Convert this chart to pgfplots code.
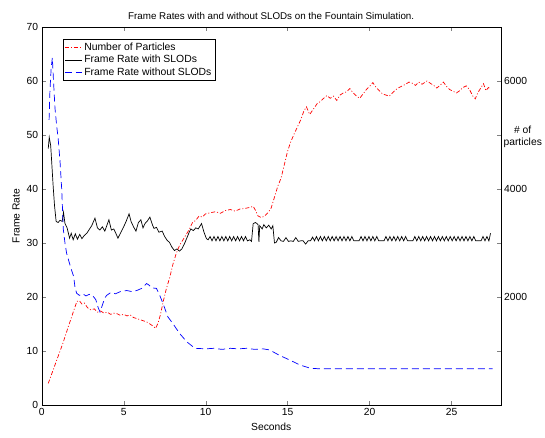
\documentclass[border=0pt]{standalone}
\usepackage{fontspec}
\setmainfont{Liberation Sans}
\usepackage{pgfplots}
\pgfplotsset{compat=1.18}

\pgfplotstableread{
x y
0.40 47.5
0.46 49.6
0.55 48.0
0.62 44.5
0.70 40.5
0.78 37.0
0.88 34.0
1.00 33.8
1.12 34.2
1.25 34.0
1.33 35.7
1.42 33.6
1.55 32.8
1.70 30.9
1.80 31.8
1.92 30.6
2.05 31.7
2.18 30.7
2.32 31.6
2.45 30.8
2.60 31.4
2.75 31.8
2.90 32.5
3.05 33.2
3.25 34.6
3.40 32.8
3.55 32.4
3.70 33.0
3.85 32.2
4.10 34.3
4.25 32.4
4.40 32.6
4.55 31.6
4.65 30.9
4.80 31.8
5.00 33.0
5.15 34.0
5.33 35.4
5.45 34.0
5.60 33.0
5.75 32.2
5.90 33.8
6.05 34.3
6.18 32.8
6.30 33.6
6.45 34.1
6.60 34.8
6.75 33.4
6.85 32.7
7.00 32.9
7.15 32.0
7.35 32.2
7.50 31.2
7.65 30.5
7.80 30.1
7.95 29.2
8.10 28.6
8.25 28.9
8.40 28.5
8.55 28.9
8.70 29.8
8.85 30.9
9.00 32.0
9.10 32.6
9.25 32.3
9.40 32.8
9.55 32.6
9.75 33.6
9.90 32.0
10.05 30.8
10.15 30.6
10.27 31.2
10.39 30.4
10.51 31.2
10.63 30.4
10.75 31.2
10.87 30.4
10.99 31.2
11.11 30.4
11.23 31.2
11.35 30.4
11.47 31.2
11.59 30.4
11.71 31.2
11.83 30.4
11.95 31.2
12.07 30.4
12.19 31.2
12.31 30.4
12.43 31.2
12.55 30.4
12.70 30.6
12.80 30.3
12.90 33.6
13.05 33.8
13.20 33.4
13.25 30.2
13.30 33.2
13.45 32.6
13.55 33.4
13.70 32.8
13.85 33.3
14.00 32.6
14.10 33.2
14.20 30.0
14.30 30.1
14.45 31.0
14.60 30.4
14.75 30.3
14.90 31.0
15.05 30.3
15.20 30.4
15.35 30.3
15.50 31.0
15.65 30.3
15.80 30.4
15.95 30.4
16.10 29.8
16.25 30.4
16.40 30.4
16.52 31.1
16.64 30.4
16.76 31.2
16.88 30.4
17.00 31.2
17.12 30.4
17.24 31.2
17.36 30.4
17.48 31.2
17.60 30.4
17.72 31.2
17.84 30.4
17.96 31.2
18.08 30.4
18.20 31.2
18.32 30.4
18.44 31.2
18.56 30.4
18.68 31.2
18.80 30.4
18.92 31.2
19.04 30.4
19.20 30.4
19.36 30.4
19.48 31.2
19.60 30.4
19.72 31.2
19.84 30.4
19.96 31.2
20.08 30.4
20.20 31.2
20.32 30.4
20.44 31.2
20.56 30.4
20.72 30.4
20.88 30.4
21.00 31.2
21.12 30.4
21.24 31.2
21.36 30.4
21.48 31.2
21.60 30.4
21.72 31.2
21.84 30.4
21.96 31.2
22.08 30.4
22.20 31.2
22.32 30.4
22.48 30.4
22.64 30.4
22.76 31.2
22.88 30.4
23.00 31.2
23.12 30.4
23.24 31.2
23.36 30.4
23.48 31.2
23.60 30.4
23.72 31.2
23.84 30.4
23.96 31.2
24.08 30.4
24.20 31.2
24.32 30.4
24.44 31.2
24.56 30.4
24.68 31.2
24.80 30.4
24.92 31.2
25.04 30.4
25.16 31.2
25.28 30.4
25.40 31.2
25.52 30.4
25.64 31.2
25.76 30.4
25.88 31.2
26.00 30.4
26.12 31.2
26.24 30.4
26.36 31.2
26.48 30.4
26.64 30.4
26.80 30.4
26.92 31.2
27.04 30.4
27.16 31.2
27.28 30.4
27.38 31.8
}\withslods

\pgfplotstableread{
x y
0.45 52.8
0.50 58.0
0.58 62.5
0.65 64.3
0.72 60.0
0.81 55.0
0.92 51.5
1.00 49.5
1.12 45.0
1.22 40.0
1.32 32.5
1.42 30.0
1.52 28.1
1.67 26.5
1.83 24.9
1.95 23.8
2.03 21.8
2.13 20.7
2.30 20.3
2.50 20.6
2.70 20.2
2.90 20.5
3.10 20.3
3.30 19.5
3.45 18.0
3.56 17.2
3.70 18.5
3.85 19.8
3.96 20.3
4.20 20.8
4.50 20.6
4.80 21.0
5.19 21.2
5.50 21.0
5.80 21.2
6.10 21.6
6.40 22.5
6.55 22.2
6.70 21.7
7.00 21.6
7.20 20.3
7.40 18.8
7.70 16.3
8.00 15.1
8.40 13.3
8.85 11.7
9.35 10.5
10.00 10.4
10.50 10.5
11.00 10.3
11.50 10.5
12.00 10.4
12.50 10.5
13.00 10.3
13.50 10.4
13.90 10.2
14.50 9.2
15.15 8.3
15.76 7.4
16.40 6.8
17.00 6.7
27.50 6.7
}\withoutslods

\pgfplotstableread{
x n
0.40 400
0.70 650
1.00 900
1.30 1150
1.60 1430
1.90 1700
2.15 1920
2.30 1930
2.45 1870
2.60 1890
2.80 1800
3.00 1760
3.20 1780
3.40 1720
3.60 1740
3.80 1700
4.00 1720
4.20 1680
4.40 1700
4.60 1690
4.80 1660
5.00 1680
5.20 1650
5.40 1670
5.60 1620
5.80 1600
6.00 1580
6.20 1560
6.40 1540
6.60 1500
6.80 1460
6.95 1420
7.10 1520
7.25 1680
7.40 1900
7.60 2150
7.80 2350
8.00 2600
8.20 2800
8.40 2950
8.60 3050
8.80 3150
9.00 3250
9.20 3380
9.40 3420
9.60 3500
9.80 3480
10.00 3540
10.30 3560
10.60 3580
10.90 3550
11.20 3600
11.50 3620
11.80 3590
12.10 3630
12.40 3640
12.70 3660
12.90 3680
13.05 3600
13.20 3500
13.40 3470
13.60 3500
13.80 3560
14.00 3650
14.20 3850
14.40 4050
14.60 4200
14.80 4450
15.00 4700
15.20 4880
15.40 5020
15.60 5150
15.80 5280
16.00 5450
16.15 5520
16.35 5380
16.55 5470
16.80 5580
17.00 5620
17.20 5680
17.40 5730
17.60 5680
17.80 5720
18.00 5640
18.20 5740
18.40 5780
18.60 5800
18.80 5860
19.00 5780
19.20 5720
19.40 5680
19.60 5760
19.80 5840
20.00 5900
20.20 5970
20.40 5880
20.60 5820
20.80 5760
21.00 5740
21.20 5720
21.40 5780
21.60 5840
21.80 5880
22.00 5910
22.20 5940
22.40 5980
22.60 5960
22.80 5920
23.00 5980
23.20 5940
23.50 6000
23.70 5960
23.90 5920
24.10 5870
24.30 5920
24.50 5980
24.70 5900
24.90 5840
25.10 5810
25.30 5780
25.50 5820
25.70 5880
25.90 5910
26.10 5840
26.30 5720
26.45 5670
26.60 5780
26.80 5880
26.95 5950
27.10 5820
27.25 5880
27.40 5850
}\particles

\begin{document}
\begin{tikzpicture}
\pgfplotsset{
  fr/.style={
    width=459pt, height=378pt, scale only axis,
    at={(0,0)}, anchor=south west,
    xmin=0, xmax=28,
    tick align=inside,
    major tick length=4pt,
    /pgf/number format/assume math mode=true,
    tick label style={font=\fontsize{10.3}{12}\selectfont},
    label style={font=\fontsize{10.3}{12}\selectfont},
    axis line style={black},
  },
}
\begin{axis}[
  fr,
  ymin=0, ymax=70,
  xtick={0,5,...,25}, ytick={0,10,...,70},
  xtick pos=both, ytick pos=left,
  title={Frame Rates with and without SLODs on the Fountain Simulation.},
  title style={font=\fontsize{9.8}{11}\selectfont, yshift=-2pt},
  xlabel={Seconds}, ylabel={Frame Rate},
  legend style={at={(axis description cs:0.046,0.968)}, anchor=north west,
    draw=black, font=\fontsize{10.4}{12}\selectfont, row sep=-0.5pt,
    inner sep=1.5pt},
  legend cell align=left,
]
\addlegendimage{red, line width=0.7pt, dash pattern=on 4pt off 2pt on 1pt off 2pt}
\addlegendentry{Number of Particles}
\addplot[black, line width=0.7pt] table[x=x, y=y] {\withslods};
\addlegendentry{Frame Rate with SLODs}
\addplot[blue, line width=0.7pt, dash pattern=on 7pt off 4pt] table[x=x, y=y] {\withoutslods};
\addlegendentry{Frame Rate without SLODs}
\end{axis}
\begin{axis}[
  fr,
  ymin=0, ymax=7000,
  axis x line=none, axis y line*=right,
  ytick={1000,2000,...,6000},
  yticklabels={,2000,,4000,,6000},
  scaled y ticks=false,
  ylabel={\# of\\particles},
  ylabel style={rotate=-90, align=center, at={(rel axis cs:1.048,0.71)}, anchor=center},
]
\addplot[red, line width=0.7pt, dash pattern=on 4pt off 2pt on 1pt off 2pt] table[x=x, y=n] {\particles};
\end{axis}
\pgfresetboundingbox
\useasboundingbox (-41.7pt,-32pt) rectangle (503.3pt,405pt);
\end{tikzpicture}
\end{document}
